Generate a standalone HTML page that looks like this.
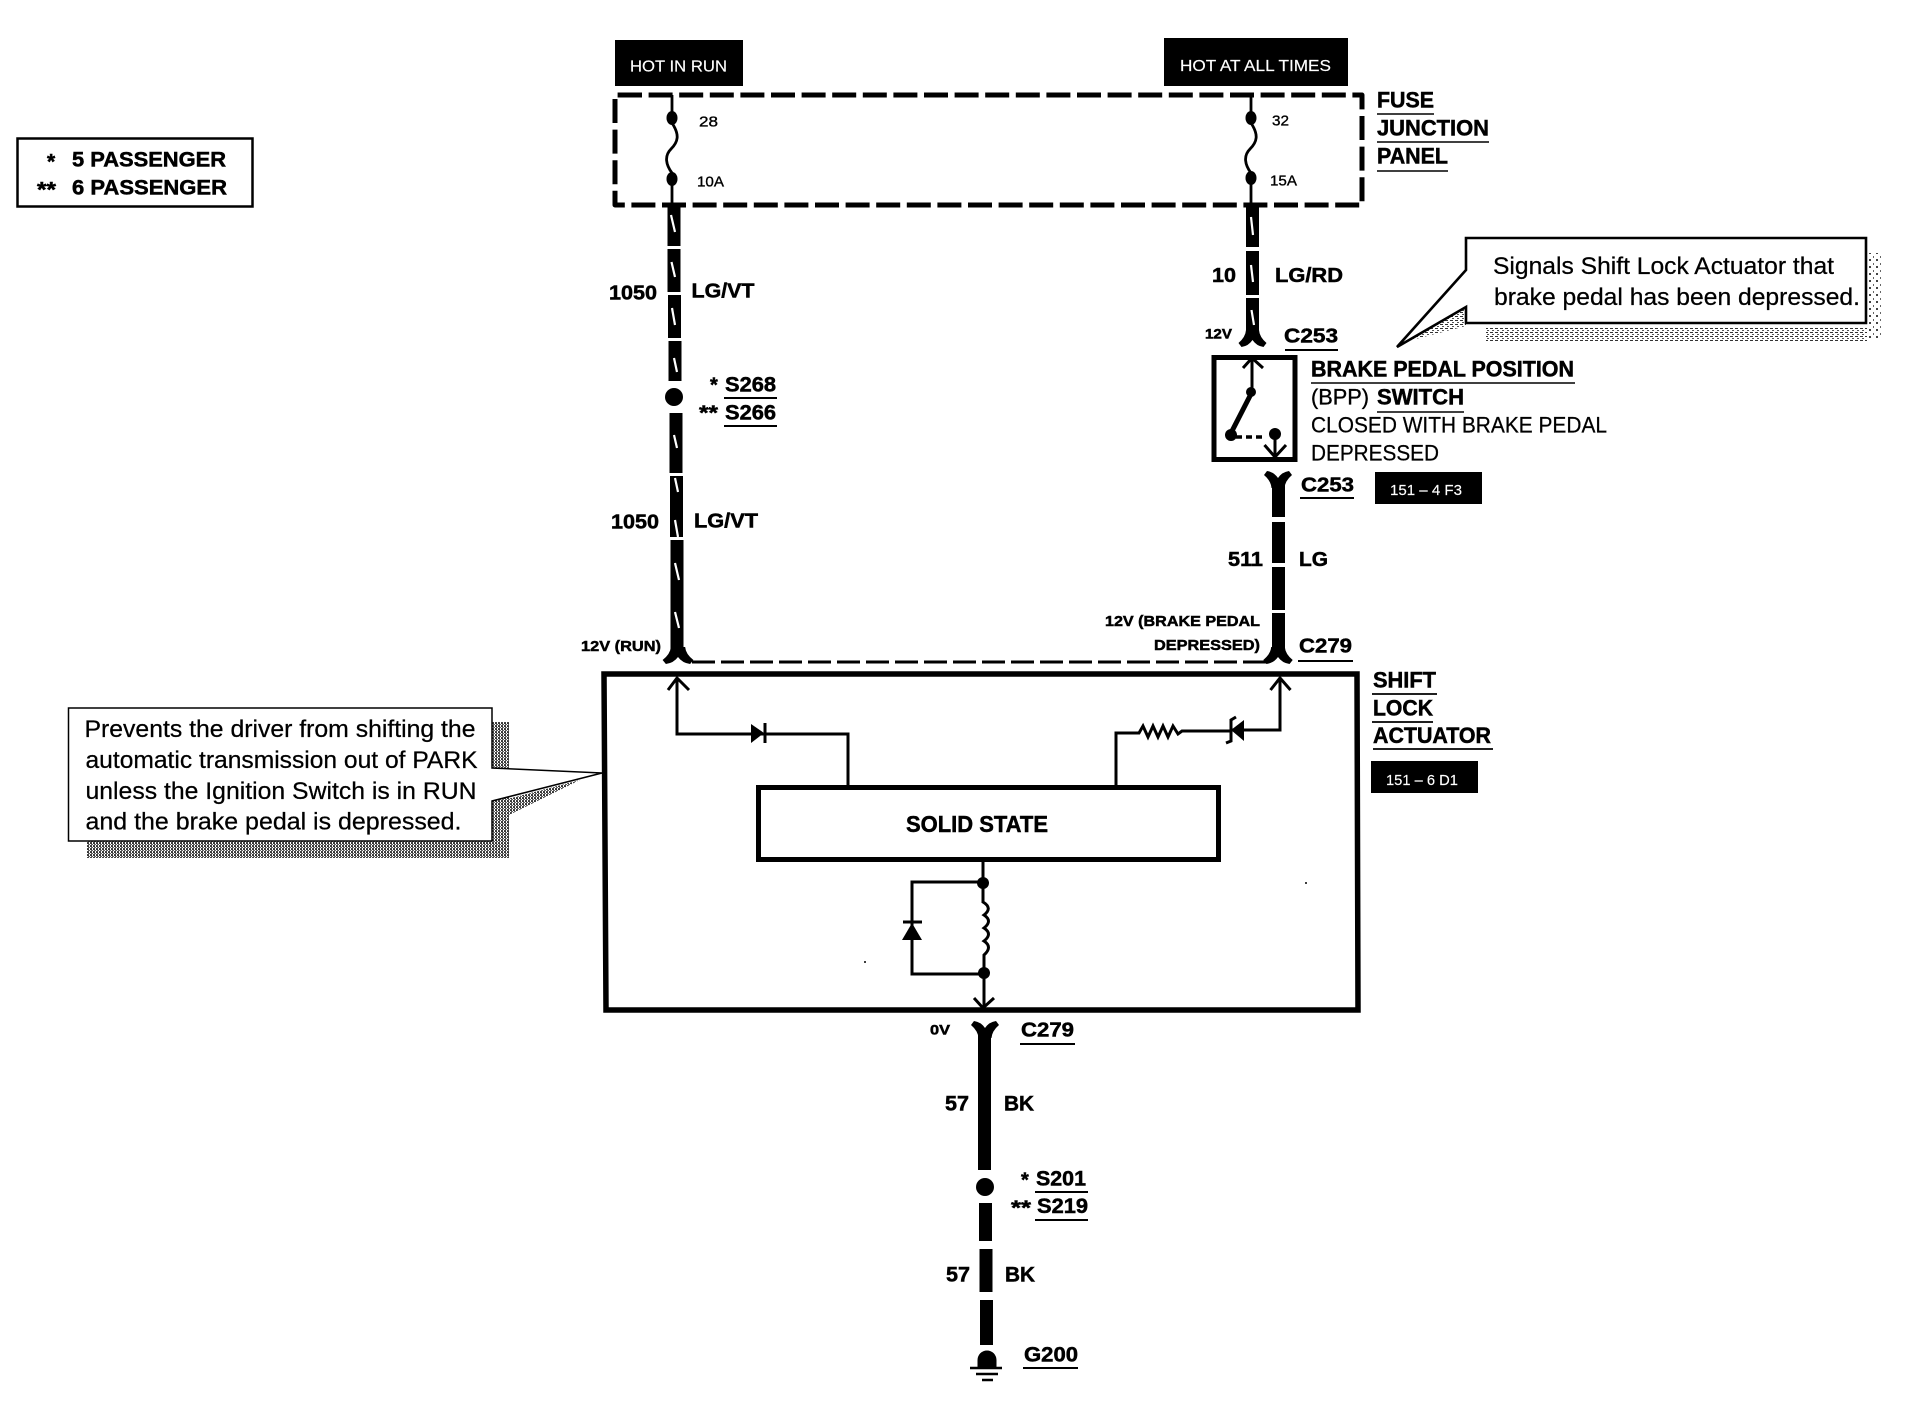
<!DOCTYPE html>
<html><head><meta charset="utf-8"><style>
html,body{margin:0;padding:0;background:#fff;width:1908px;height:1408px;overflow:hidden}
svg{display:block}
text{font-family:"Liberation Sans",sans-serif;fill:#000;stroke:#000;stroke-width:.25px;transform:translateY(-.7px)}
.b{font-weight:bold;stroke-width:.5px}
.n{stroke-width:.35px}
.w{fill:#fff;stroke:#fff;stroke-width:.15px}
</style></head><body>
<svg width="1908" height="1408" viewBox="0 0 1908 1408" xmlns="http://www.w3.org/2000/svg">
<defs>
<pattern id="d" width="3" height="3" patternUnits="userSpaceOnUse"><rect width="3" height="3" fill="#fff"/><rect width="2" height="1" fill="#333"/><rect x="1" y="1" width="2" height="1" fill="#666"/><rect y="2" width="2" height="1" fill="#444"/></pattern>
<pattern id="e" width="5" height="4" patternUnits="userSpaceOnUse"><rect width="5" height="4" fill="#fff"/><rect width="3" height="1" fill="#333"/><rect x="2" y="2" width="2" height="1" fill="#555"/></pattern>
<pattern id="f" width="7" height="7" patternUnits="userSpaceOnUse"><rect width="7" height="7" fill="#fff"/><rect width="2" height="2" fill="#444"/><rect x="4" y="4" width="1" height="2" fill="#666"/></pattern>
<path id="y" d="M-6.5,-10 L6.5,-10 Q7,-3 14,3 L11,7 Q4,6 0,0 Q-4,6 -11,7 L-14,3 Q-7,-3 -6.5,-10 Z"/>
</defs>
<rect width="1908" height="1408" fill="#fff"/>

<!-- legend -->
<rect x="17.5" y="138.5" width="235" height="68" fill="#fff" stroke="#000" stroke-width="2.5"/>
<text class="b" x="47" y="169" font-size="21">*</text>
<text class="b" x="72" y="167" font-size="21" textLength="154" lengthAdjust="spacingAndGlyphs">5 PASSENGER</text>
<text class="b" x="37" y="197" font-size="21" textLength="19" lengthAdjust="spacingAndGlyphs">**</text>
<text class="b" x="72" y="195" font-size="21" textLength="155" lengthAdjust="spacingAndGlyphs">6 PASSENGER</text>

<!-- hot boxes -->
<rect x="615" y="40" width="128" height="46"/>
<rect x="1164" y="38" width="184" height="48"/>
<text class="w" x="630" y="72" font-size="16" textLength="97" lengthAdjust="spacingAndGlyphs">HOT IN RUN</text>
<text class="w" x="1180" y="71.5" font-size="16" textLength="151" lengthAdjust="spacingAndGlyphs">HOT AT ALL TIMES</text>

<!-- fuse panel -->
<path d="M618,95 H1362 V205 H615 V95 H618" fill="none" stroke="#000" stroke-width="5" stroke-dasharray="24 6.6" stroke-linejoin="round"/>
<g fill="none" stroke="#000" stroke-width="2.8">
<path d="M672,95 V123 C680,135 678,142 671,149 C664,156 666,165 672,173 V207"/>
<path d="M1251,95 V123 C1259,135 1257,142 1250,149 C1243,156 1245,165 1251,173 V207"/>
</g>
<ellipse cx="672" cy="118" rx="5.5" ry="7"/><ellipse cx="672" cy="179" rx="5.5" ry="7"/>
<ellipse cx="1251" cy="118" rx="5.5" ry="7"/><ellipse cx="1251" cy="178" rx="5.5" ry="7"/>
<text class="n" x="699" y="127" font-size="15" textLength="19" lengthAdjust="spacingAndGlyphs">28</text>
<text class="n" x="697" y="187" font-size="15" textLength="27" lengthAdjust="spacingAndGlyphs">10A</text>
<text class="n" x="1272" y="126" font-size="15" textLength="17" lengthAdjust="spacingAndGlyphs">32</text>
<text class="n" x="1270" y="186" font-size="15" textLength="27" lengthAdjust="spacingAndGlyphs">15A</text>
<text class="b" x="1377" y="108" font-size="22" textLength="57" lengthAdjust="spacingAndGlyphs">FUSE</text>
<text class="b" x="1377" y="136" font-size="22" textLength="112" lengthAdjust="spacingAndGlyphs">JUNCTION</text>
<text class="b" x="1377" y="164" font-size="22" textLength="71" lengthAdjust="spacingAndGlyphs">PANEL</text>
<path d="M1377,114 H1434 M1377,142 H1489 M1377,171 H1448" stroke="#000" stroke-width="1.6"/>

<!-- left wire -->
<g stroke="#000" stroke-width="13">
<path d="M674,205 V246 M674,249 V292 M674.5,295 V338 M675,341 V381 M676,413 V473 M676.5,476 V537 M677,540 V652"/>
</g>
<circle cx="674" cy="397" r="9"/>
<use href="#y" transform="translate(678,657) scale(1.1,1)"/>
<g stroke="#fff" stroke-width="2.2">
<path d="M671,215 L675,232 M671.5,262 L675,277 M672,308 L675,325 M674,358 L677,372 M674,435 L677,448 M675,478 L678,492 M675,520 L678,537 M675,563 L679,580 M675,612 L679,628"/>
</g>
<text class="b" x="609" y="300" font-size="20" textLength="48" lengthAdjust="spacingAndGlyphs">1050</text>
<text class="b" x="691.5" y="298" font-size="20" textLength="63" lengthAdjust="spacingAndGlyphs">LG/VT</text>
<text class="b" x="611" y="529" font-size="20" textLength="48" lengthAdjust="spacingAndGlyphs">1050</text>
<text class="b" x="694" y="528" font-size="20" textLength="64" lengthAdjust="spacingAndGlyphs">LG/VT</text>
<text class="b" x="710" y="392" font-size="20">*</text>
<text class="b" x="725" y="392" font-size="21" textLength="51" lengthAdjust="spacingAndGlyphs">S268</text>
<text class="b" x="699" y="420" font-size="20" textLength="19" lengthAdjust="spacingAndGlyphs">**</text>
<text class="b" x="725" y="420" font-size="21" textLength="51" lengthAdjust="spacingAndGlyphs">S266</text>
<path d="M724,398 H777 M724,426 H777" stroke="#000" stroke-width="2"/>
<text class="b" x="581" y="651.5" font-size="15" textLength="80" lengthAdjust="spacingAndGlyphs">12V (RUN)</text>

<!-- dashed between connectors -->
<path d="M692,662 H1266" fill="none" stroke="#000" stroke-width="3" stroke-dasharray="23 6"/>

<!-- right upper wire -->
<g stroke="#000" stroke-width="13">
<path d="M1252.5,205 V247 M1252.5,251 V295 M1252.5,298 V332"/>
</g>
<use href="#y" x="1252.5" y="340"/>
<g stroke="#fff" stroke-width="2.2">
<path d="M1251,217 L1253,235 M1251,265 L1253,282 M1251.5,310 L1254,325"/>
</g>
<text class="b" x="1212" y="282.5" font-size="20" textLength="24" lengthAdjust="spacingAndGlyphs">10</text>
<text class="b" x="1275" y="282.5" font-size="20" textLength="68" lengthAdjust="spacingAndGlyphs">LG/RD</text>
<text class="b" x="1205" y="339" font-size="14" textLength="27" lengthAdjust="spacingAndGlyphs">12V</text>
<text class="b" x="1284" y="343" font-size="20" textLength="54" lengthAdjust="spacingAndGlyphs">C253</text>
<path d="M1285,350 H1338" stroke="#000" stroke-width="2"/>

<!-- switch -->
<rect x="1214" y="357.5" width="81" height="102" fill="#fff" stroke="#000" stroke-width="5"/>
<g fill="none" stroke="#000">
<path d="M1243,368 L1252,358 L1263,368" stroke-width="3"/>
<path d="M1252,358 V392" stroke-width="3"/>
<path d="M1252,392 L1231,433" stroke-width="5"/>
<path d="M1236,437 H1262" stroke-width="3.5" stroke-dasharray="6 4"/>
<path d="M1275,433 V457" stroke-width="3"/>
<path d="M1264.5,445 L1275,457 L1286,445" stroke-width="3"/>
</g>
<circle cx="1251" cy="392" r="5"/><circle cx="1231" cy="435" r="6"/><circle cx="1275" cy="434" r="6"/>
<text class="b" x="1311" y="377" font-size="22" textLength="263" lengthAdjust="spacingAndGlyphs">BRAKE PEDAL POSITION</text>
<text class="n" x="1311" y="405" font-size="22" textLength="58" lengthAdjust="spacingAndGlyphs">(BPP)</text>
<text class="b" x="1377" y="405" font-size="22" textLength="87" lengthAdjust="spacingAndGlyphs">SWITCH</text>
<path d="M1311,383 H1575 M1377,412 H1464" stroke="#000" stroke-width="1.6"/>
<text x="1311" y="433" font-size="22" textLength="296" lengthAdjust="spacingAndGlyphs">CLOSED WITH BRAKE PEDAL</text>
<text x="1311" y="461" font-size="22" textLength="128" lengthAdjust="spacingAndGlyphs">DEPRESSED</text>
<use href="#y" transform="translate(1278,478) scale(1,-1)"/>
<text class="b" x="1301" y="492" font-size="20" textLength="53" lengthAdjust="spacingAndGlyphs">C253</text>
<path d="M1300,498 H1354" stroke="#000" stroke-width="2"/>
<rect x="1375" y="472" width="107" height="32"/>
<text class="w" x="1390" y="495.5" font-size="14.5" textLength="72" lengthAdjust="spacingAndGlyphs">151 – 4 F3</text>

<!-- right lower wire -->
<g stroke="#000" stroke-width="13">
<path d="M1278.5,485 V517 M1278.5,522 V563 M1278.5,567 V610 M1278.5,613 V650"/>
</g>
<use href="#y" transform="translate(1278,657) scale(1.05,1)"/>
<text class="b" x="1228" y="566.5" font-size="20" textLength="35" lengthAdjust="spacingAndGlyphs">511</text>
<text class="b" x="1299" y="566.5" font-size="20" textLength="29" lengthAdjust="spacingAndGlyphs">LG</text>
<text class="b" x="1105" y="626.5" font-size="15" textLength="155" lengthAdjust="spacingAndGlyphs">12V (BRAKE PEDAL</text>
<text class="b" x="1154" y="650.5" font-size="15" textLength="106" lengthAdjust="spacingAndGlyphs">DEPRESSED)</text>
<text class="b" x="1299" y="653" font-size="20" textLength="53" lengthAdjust="spacingAndGlyphs">C279</text>
<path d="M1298,661 H1353" stroke="#000" stroke-width="2"/>

<!-- main box -->
<path d="M604,674 H1357 L1358,1010 H606 Z" fill="#fff" stroke="#000" stroke-width="5.5"/>
<text class="b" x="1373" y="688" font-size="22" textLength="63" lengthAdjust="spacingAndGlyphs">SHIFT</text>
<text class="b" x="1373" y="716" font-size="22" textLength="60" lengthAdjust="spacingAndGlyphs">LOCK</text>
<text class="b" x="1373" y="743.5" font-size="22" textLength="118" lengthAdjust="spacingAndGlyphs">ACTUATOR</text>
<path d="M1372,694 H1437 M1372,722 H1433 M1373,749 H1493" stroke="#000" stroke-width="1.8"/>
<rect x="1371" y="761" width="107" height="32"/>
<text class="w" x="1386" y="785.5" font-size="14.5" textLength="72" lengthAdjust="spacingAndGlyphs">151 – 6 D1</text>

<!-- internal circuit -->
<g fill="none" stroke="#000" stroke-width="3">
<path d="M677,680 V734 H848 V786"/>
<path d="M668,690 L677,678 L689,690"/>
<path d="M1280,680 V730 H1231"/>
<path d="M1270.5,690 L1280,678 L1290.5,690"/>
<path d="M1116,786 V733 H1139 L1143,726 L1148,737 L1153,726 L1158,737 L1163,726 L1168,737 L1173,726 L1178,734 L1182,731 H1231"/>
<path d="M1226,743 L1231,741 V720 L1236,717"/>
<path d="M765,723 V743"/>
<path d="M983,862 V902 Q993,908 984,915 Q993,921 984,928 Q993,934 984,941 Q993,947 984,955 V1008"/>
<path d="M983,882 H912 V974 H984"/>
<path d="M974,998 L983,1008 L994,998"/>
<path d="M903,922 H922"/>
</g>
<path d="M751,724 L764,733 L751,743 Z"/>
<path d="M1231,730 L1244,720 V741 Z"/>
<path d="M912,923 L922,940 H902 Z"/>
<circle cx="983" cy="883" r="6"/><circle cx="984" cy="973" r="6"/>
<rect x="758.5" y="787.5" width="460" height="72" fill="#fff" stroke="#000" stroke-width="5"/>
<text class="b" x="906" y="832.5" font-size="23" textLength="142" lengthAdjust="spacingAndGlyphs">SOLID STATE</text>
<circle cx="1306" cy="883" r="1"/><circle cx="865" cy="962" r="1"/>

<!-- bottom wire -->
<use href="#y" transform="translate(985,1028) scale(1,-1)"/>
<g stroke="#000" stroke-width="13">
<path d="M984.5,1035 V1170 M985.5,1203 V1241 M986,1249 V1292 M986.5,1300 V1345"/>
</g>
<circle cx="985" cy="1187" r="9"/>
<path d="M977.5,1368 V1360 A9.5,9.5 0 0 1 996.5,1360 V1368 Z"/>
<path d="M970,1368 H1002 M976,1374 H998 M982,1380 H993" stroke="#000" stroke-width="2.6"/>
<text class="b" x="930" y="1035" font-size="14" textLength="20" lengthAdjust="spacingAndGlyphs">0V</text>
<text class="b" x="1021" y="1037" font-size="20" textLength="53" lengthAdjust="spacingAndGlyphs">C279</text>
<path d="M1020,1044 H1075" stroke="#000" stroke-width="2"/>
<text class="b" x="945" y="1111" font-size="21" textLength="24" lengthAdjust="spacingAndGlyphs">57</text>
<text class="b" x="1004" y="1111" font-size="21" textLength="30" lengthAdjust="spacingAndGlyphs">BK</text>
<text class="b" x="1021" y="1187" font-size="20">*</text>
<text class="b" x="1036" y="1186" font-size="21" textLength="50" lengthAdjust="spacingAndGlyphs">S201</text>
<text class="b" x="1011" y="1215" font-size="20" textLength="20" lengthAdjust="spacingAndGlyphs">**</text>
<text class="b" x="1037" y="1213.5" font-size="21" textLength="51" lengthAdjust="spacingAndGlyphs">S219</text>
<path d="M1035,1192 H1088 M1035,1220 H1088" stroke="#000" stroke-width="2"/>
<text class="b" x="946" y="1282" font-size="21" textLength="24" lengthAdjust="spacingAndGlyphs">57</text>
<text class="b" x="1005" y="1282" font-size="21" textLength="30" lengthAdjust="spacingAndGlyphs">BK</text>
<text class="b" x="1024" y="1362" font-size="21" textLength="54" lengthAdjust="spacingAndGlyphs">G200</text>
<path d="M1023,1368 H1078" stroke="#000" stroke-width="2"/>

<!-- top-right callout -->
<rect x="1486" y="327" width="381" height="14" fill="url(#e)"/>
<rect x="1868" y="253" width="13" height="87" fill="url(#f)"/>
<path d="M1404,342 L1466,307 L1466,326 Z" fill="url(#e)"/>
<path d="M1466,238 H1866 V323 H1466 V307 L1397,347 L1466,270 Z" fill="#fff" stroke="#000" stroke-width="2.6"/>
<text x="1493" y="274.5" font-size="24" textLength="341" lengthAdjust="spacingAndGlyphs">Signals Shift Lock Actuator that</text>
<text x="1494" y="305.5" font-size="24" textLength="366" lengthAdjust="spacingAndGlyphs">brake pedal has been depressed.</text>

<!-- left callout -->
<rect x="87" y="841" width="422" height="17" fill="url(#d)"/>
<rect x="492" y="722" width="17" height="136" fill="url(#d)"/>
<path d="M492,803 L580,780 L509,815 L492,815 Z" fill="url(#d)"/>
<path d="M68.5,708 H492 V768 L602,773 L492,801 V841 H68.5 Z" fill="#fff" stroke="#000" stroke-width="1.5"/>
<text x="84.5" y="737.5" font-size="24" textLength="391" lengthAdjust="spacingAndGlyphs">Prevents the driver from shifting the</text>
<text x="85.5" y="768.5" font-size="24" textLength="392" lengthAdjust="spacingAndGlyphs">automatic transmission out of PARK</text>
<text x="85.5" y="799.5" font-size="24" textLength="391" lengthAdjust="spacingAndGlyphs">unless the Ignition Switch is in RUN</text>
<text x="85.5" y="830" font-size="24" textLength="376" lengthAdjust="spacingAndGlyphs">and the brake pedal is depressed.</text>
</svg>
</body></html>
